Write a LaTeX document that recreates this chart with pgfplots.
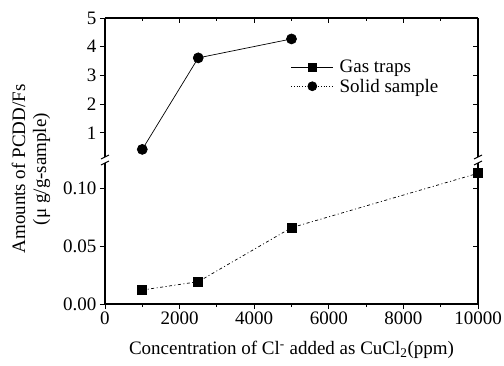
\documentclass[border=0pt]{standalone}
\usepackage{pgfplots}
\pgfplotsset{compat=1.18}
\usepackage{fontspec}
\setmainfont{Liberation Serif}
\begin{document}
\begin{tikzpicture}[x=1pt,y=1pt]
\path[use as bounding box] (-105pt,-61pt) rectangle (399pt,304pt);
\pgfplotsset{common/.style={scale only axis, width=373pt, xmin=0, xmax=10000,
  font=\fontsize{19}{22}\selectfont,
  /pgf/number format/assume math mode=true, /pgf/number format/1000 sep={},
  scaled x ticks=false, scaled y ticks=false,
  xtick={0,2000,...,10000}, minor x tick num=1,
  axis line style={line width=1.1pt},
  tick style={line width=0.9pt, black},
  major tick length=5pt, minor tick length=3pt},
  lower/.style={common, at={(0pt,0pt)}, anchor=south west, height=144pt,
  ymin=0, ymax=0.1245, ytick={0,0.05,0.1}},
  upper/.style={common, at={(0pt,144pt)}, anchor=south west, height=142pt,
  ymin=0.05, ymax=5, ytick={1,2,3,4,5}}}
% lower axis: right spine, inward ticks
\begin{axis}[lower, axis x line=none, axis y line*=right, tick align=inside, yticklabels={}]
\addplot[draw=none, forget plot] coordinates {(0,0)};
\end{axis}
% lower axis: data, left and bottom spines, outward ticks
\begin{axis}[lower, tick align=outside,
  xticklabel style={yshift=1pt},
  yticklabel style={/pgf/number format/.cd, fixed, fixed zerofill, precision=2},
  axis x line*=bottom, axis y line*=left,
  xlabel style={yshift=-10pt},
  xlabel={Concentration of Cl\textsuperscript{-} added as CuCl\textsubscript{2}(ppm)}]
\addplot[black, line width=0.7pt, dash pattern=on 3pt off 2.5pt on 1pt off 2.5pt, mark=square*, mark size=4.5pt, mark options={solid}]
  coordinates {(1000,0.0121) (2500,0.0193) (5000,0.066) (10000,0.113)};
\end{axis}
% upper axis: top and right spines, inward ticks
\begin{axis}[upper, axis x line*=top, axis y line*=right, tick align=inside, xticklabels={}, yticklabels={}]
\addplot[draw=none, forget plot] coordinates {(0,1)};
\end{axis}
% upper axis: data, left spine, outward ticks
\begin{axis}[upper, axis x line=none, axis y line*=left, tick align=outside,
  legend cell align=left,
  legend style={at={(rel axis cs:0.49,0.735)}, anchor=north west, draw=none, fill=none,
    font=\fontsize{19}{22}\selectfont, row sep=1pt, /tikz/column sep=4pt},
  legend image code/.code={\draw[mark repeat=2,mark phase=2,#1] plot coordinates {(0pt,0pt) (21pt,0pt) (42pt,0pt)};}]
\addplot[black, line width=0.7pt, mark=*, mark size=5pt, forget plot]
  coordinates {(1000,0.42) (2500,3.61) (5000,4.27)};
\addlegendimage{black, line width=0.7pt, mark=square*, mark size=4pt}
\addlegendentry{Gas traps}
\addlegendimage{black, line width=0.7pt, dotted, mark=*, mark size=4.5pt, mark options={solid}}
\addlegendentry{Solid sample}
\end{axis}
% axis break marks
\fill[white] (-3pt,141pt) rectangle (3pt,147pt);
\fill[white] (370pt,141pt) rectangle (376pt,147pt);
\draw[line width=1pt] (-4pt,139pt) -- (4pt,143pt) (-4pt,145pt) -- (4pt,149pt);
\draw[line width=1pt] (369pt,139pt) -- (377pt,143pt) (369pt,145pt) -- (377pt,149pt);
\node[rotate=90, align=center, font=\fontsize{19}{21}\selectfont] at (-74pt,135pt) {Amounts of PCDD/Fs\\(μ g/g-sample)};
\end{tikzpicture}
\end{document}
